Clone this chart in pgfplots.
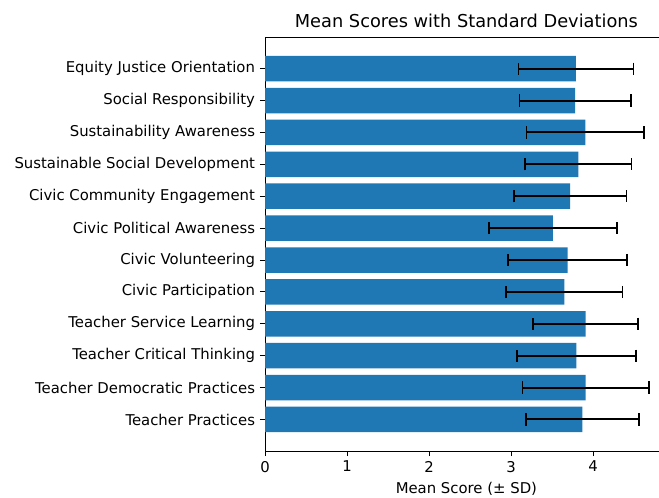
\documentclass[border=0pt]{standalone}
\usepackage{pgfplots}
\pgfplotsset{compat=1.18}
\usepackage{pgfplotstable}
\usepackage{fontspec}
\setmainfont{DejaVu Sans}
\definecolor{tabblue}{HTML}{1F77B4}

% mean and SD per construct, bottom (y=0) to top
\pgfplotstableread{
y m s
0 3.87 0.69
1 3.91 0.77
2 3.795 0.725
3 3.91 0.64
4 3.65 0.71
5 3.69 0.725
6 3.51 0.78
7 3.72 0.685
8 3.82 0.65
9 3.905 0.715
10 3.78 0.68
11 3.79 0.70
}\scores

\begin{document}
\begin{tikzpicture}
\begin{axis}[
  name=ax,
  scale only axis,
  width=289.9pt, height=298pt,
  xmin=0, xmax=4.91,
  ymin=-0.99, ymax=11.99,
  xtick={0,1,2,3,4},
  ytick={0,...,11},
  yticklabels={Teacher Practices, Teacher Democratic Practices, Teacher Critical Thinking,
    Teacher Service Learning, Civic Participation, Civic Volunteering,
    Civic Political Awareness, Civic Community Engagement,
    Sustainable Social Development, Sustainability Awareness,
    Social Responsibility, Equity Justice Orientation},
  tick align=outside,
  major tick length=3.7pt,
  tick style={black, line width=0.6pt},
  axis line style={line width=0.6pt},
  xtick pos=bottom, ytick pos=left,
  ticklabel style={font=\fontsize{10.7}{12.8}\selectfont},
  /pgf/number format/assume math mode=true,
  title={Mean Scores with Standard Deviations},
  title style={font=\fontsize{12.8}{15}\selectfont, yshift=-3pt},
  xlabel={Mean Score (± SD)},
  xlabel style={font=\fontsize{10.7}{12.8}\selectfont, yshift=0pt},
]
\addplot[xbar, bar width=0.8, bar shift=0pt, fill=tabblue, draw=none,
  error bars/.cd, x dir=both, x explicit, error mark=|,
  error bar style={draw=black, line width=1.4pt},
  error mark options={draw=black, line width=1.1pt, mark size=4.4pt}]
  table[x=m, y=y, x error=s] {\scores};
\end{axis}
\pgfresetboundingbox
\path ([xshift=-190.8pt,yshift=-33.1pt]ax.south west) rectangle ++(474.4pt,357.8pt);
\end{tikzpicture}
\end{document}
